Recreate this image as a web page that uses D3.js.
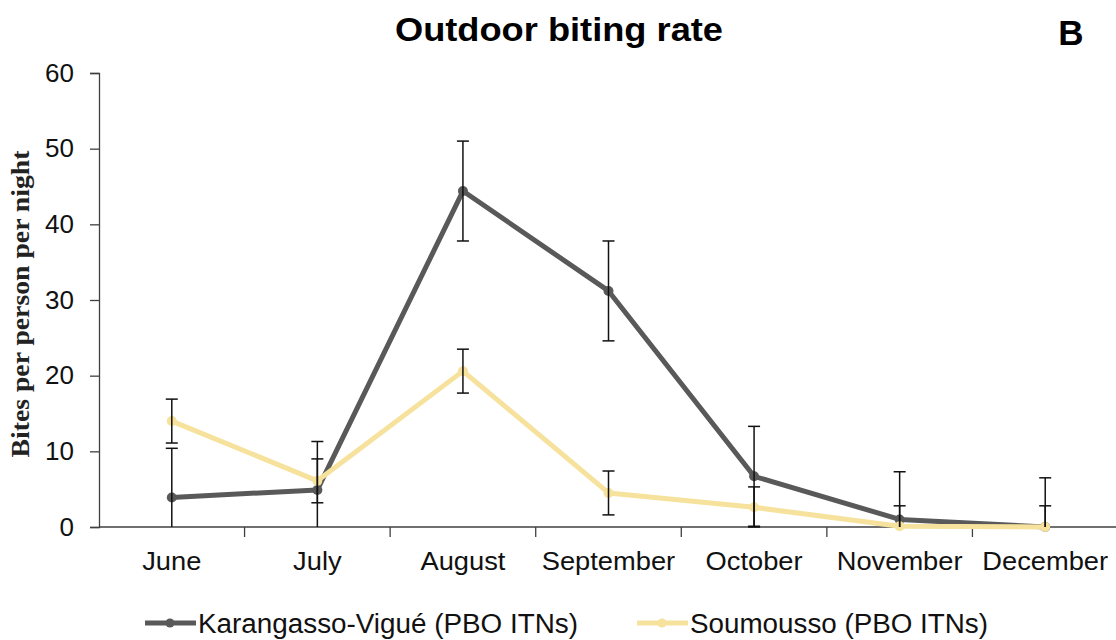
<!DOCTYPE html>
<html>
<head>
<meta charset="utf-8">
<script src="https://cdn.jsdelivr.net/npm/d3@7"></script>
<style>
  html, body { margin: 0; padding: 0; background: #fff; }
  svg { display: block; }
</style>
</head>
<body>
<svg id="chart" width="1116" height="640"></svg>
<script>
// Monthly outdoor biting rates (bites per person per night) with error margins
const months = ["June", "July", "August", "September", "October", "November", "December"];
const karangassoValues = [3.9, 4.9, 44.4, 31.2, 6.7, 1.0, 0];
const karangassoErrors = [6.5, 6.4, 6.6, 6.6, 6.6, 6.3, 6.5];
const soumoussoValues = [14.0, 6.1, 20.6, 4.5, 2.6, 0.1, 0];
const soumoussoErrors = [2.9, 2.9, 2.9, 2.9, 2.7, 2.7, 2.8];
const yTicks = [0, 10, 20, 30, 40, 50, 60];
const seriesNames = ["Karangasso-Vigué (PBO ITNs)", "Soumousso (PBO ITNs)"];

const series = [
  { name: seriesNames[0], values: karangassoValues, errors: karangassoErrors, color: "#595959" },
  { name: seriesNames[1], values: soumoussoValues, errors: soumoussoErrors, color: "#F6E29C" }
];

const SANS = "Liberation Sans, Arial, sans-serif";
const svg = d3.select("#chart");
const margin = { left: 99, right: -2, top: 73, bottom: 113 };
const W = 1116, H = 640;

const x = d3.scaleBand().domain(months).range([margin.left, W - margin.right]).padding(0);
const y = d3.scaleLinear().domain([0, 60]).range([H - margin.bottom, margin.top]);
const cx = m => x(m) + x.bandwidth() / 2;

// Title and panel letter
svg.append("text").attr("x", 559).attr("y", 41).attr("text-anchor", "middle")
  .attr("font-family", SANS).attr("font-weight", "bold")
  .attr("font-size", 33).attr("fill", "#000")
  .attr("textLength", 328).attr("lengthAdjust", "spacingAndGlyphs")
  .text("Outdoor biting rate");
svg.append("text").attr("x", 1071).attr("y", 45).attr("text-anchor", "middle")
  .attr("font-family", SANS).attr("font-weight", "bold")
  .attr("font-size", 35).attr("fill", "#000").text("B");

// Y axis
const yAxis = d3.axisLeft(y).tickValues(yTicks).tickSize(9).tickPadding(16);
const gy = svg.append("g").attr("transform", `translate(${margin.left},0)`).call(yAxis);
gy.select(".domain").attr("stroke", "#404040").attr("stroke-width", 1.3);
gy.selectAll(".tick line").attr("stroke", "#404040").attr("stroke-width", 1.3);
gy.selectAll(".tick text").attr("font-family", SANS)
  .attr("font-size", 26).attr("fill", "#111");

// X axis with ticks on category boundaries
const gx = svg.append("g").attr("transform", `translate(0,${y(0)})`);
gx.append("line").attr("x1", margin.left).attr("x2", W).attr("stroke", "#404040").attr("stroke-width", 1.3);
gx.selectAll(".bound").data(months.slice(1).concat(["end"])).join("line")
  .attr("class", "bound")
  .attr("x1", (m, i) => x(months[0]) + x.bandwidth() * (i + 1))
  .attr("x2", (m, i) => x(months[0]) + x.bandwidth() * (i + 1))
  .attr("y1", 0).attr("y2", 10).attr("stroke", "#404040").attr("stroke-width", 1.3);
gx.selectAll(".lbl").data(months).join("text")
  .attr("class", "lbl").attr("x", m => cx(m)).attr("y", 43).attr("text-anchor", "middle")
  .attr("font-family", SANS).attr("font-size", 26).attr("fill", "#111")
  .attr("transform", m => `translate(${cx(m)},0) scale(1.05,1) translate(${-cx(m)},0)`)
  .text(m => m);

// Y axis title
svg.append("text").attr("transform", `translate(29,${(y(0) + y(60)) / 2 + 4}) rotate(-90)`)
  .attr("text-anchor", "middle").attr("font-family", "Liberation Serif, Times New Roman, serif")
  .attr("font-weight", "bold").attr("font-size", 26).attr("fill", "#222")
  .attr("textLength", 307).attr("lengthAdjust", "spacingAndGlyphs")
  .text("Bites per person per night");

// Lines and markers
const line = d3.line().x((d, i) => cx(months[i])).y(d => y(d));
series.forEach(s => {
  svg.append("path").datum(s.values).attr("d", line).attr("fill", "none")
    .attr("stroke", s.color).attr("stroke-width", 5).attr("stroke-linejoin", "round");
  svg.selectAll(null).data(s.values).join("circle")
    .attr("cx", (d, i) => cx(months[i])).attr("cy", d => y(d)).attr("r", 5).attr("fill", s.color);
});

// Error bars (clipped at zero)
series.forEach(s => {
  const g = svg.append("g");
  s.values.forEach((v, i) => {
    const px = cx(months[i]);
    const hi = v + s.errors[i];
    const lo = Math.max(0, v - s.errors[i]);
    g.append("line").attr("x1", px).attr("x2", px).attr("y1", y(hi)).attr("y2", y(lo))
      .attr("stroke", "#111").attr("stroke-width", 1.5);
    g.append("line").attr("x1", px - 6).attr("x2", px + 6).attr("y1", y(hi)).attr("y2", y(hi))
      .attr("stroke", "#111").attr("stroke-width", 1.5);
    if (v - s.errors[i] > -0.3) {
      g.append("line").attr("x1", px - 6).attr("x2", px + 6).attr("y1", y(lo)).attr("y2", y(lo))
        .attr("stroke", "#111").attr("stroke-width", 1.5);
    }
  });
});

// Legend
const legendX = [145, 637];
const legendTextLen = [380, 298];
series.forEach((s, i) => {
  const g = svg.append("g").attr("transform", `translate(${legendX[i]},623)`);
  g.append("line").attr("x1", 0).attr("x2", 51).attr("stroke", s.color).attr("stroke-width", 5);
  g.append("circle").attr("cx", 25).attr("r", 4.5).attr("fill", s.color);
  g.append("text").attr("x", 53).attr("y", 10).attr("font-family", SANS)
    .attr("font-size", 27).attr("fill", "#111")
    .attr("textLength", legendTextLen[i]).attr("lengthAdjust", "spacingAndGlyphs")
    .text(s.name);
});
</script>
</body>
</html>
